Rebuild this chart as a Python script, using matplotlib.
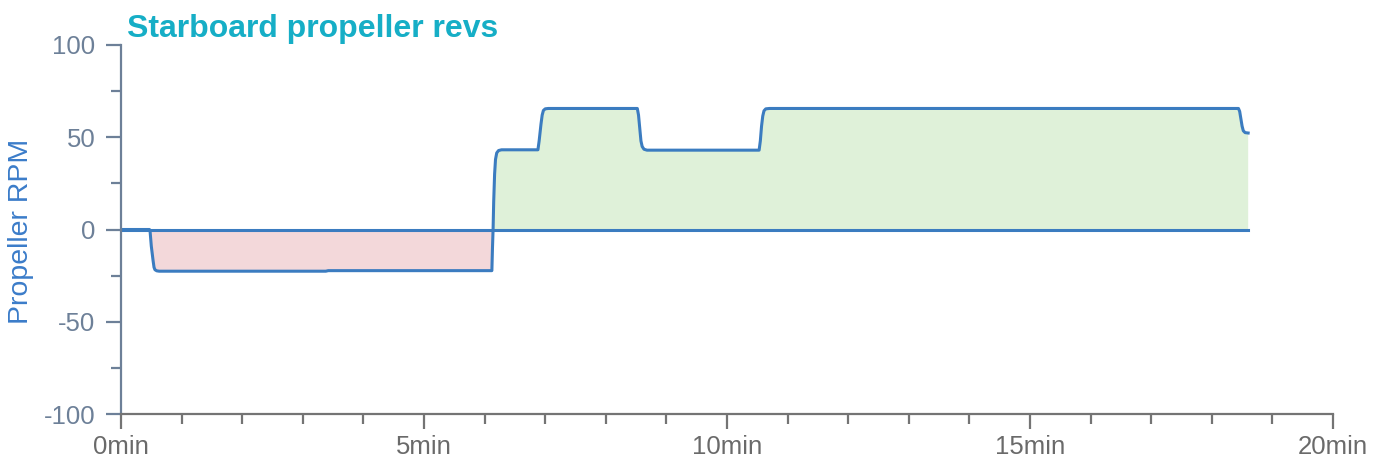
import matplotlib
matplotlib.use("Agg")
import matplotlib.pyplot as plt
from matplotlib.ticker import MultipleLocator, FuncFormatter
import numpy as np

plt.rcParams['font.family'] = ['Liberation Sans', 'DejaVu Sans']

# Data: time (minutes) and propeller RPM
time_min = [0, 0.47, 0.48, 0.50, 0.53, 0.545, 0.56, 0.59, 0.63,
            3.38, 3.42,
            6.12, 6.13, 6.14, 6.15, 6.165, 6.18, 6.20, 6.23, 6.28,
            6.88, 6.90, 6.93, 6.95, 6.97, 7.00, 7.05,
            8.52, 8.54, 8.56, 8.58, 8.60, 8.63, 8.68,
            10.53, 10.55, 10.57, 10.59, 10.61, 10.64, 10.70,
            18.44, 18.46, 18.48, 18.50, 18.52, 18.55, 18.60]
rpm = [0, 0, -1, -9, -17, -20.5, -21.8, -22.4, -22.6,
       -22.6, -22.3,
       -22.3, -10, 0, 15, 30, 38, 41.5, 42.8, 43.2,
       43.2, 48, 57, 62, 64.5, 65.4, 65.6,
       65.6, 62, 55, 48, 45, 43.5, 43,
       43, 48, 56, 61.5, 64.3, 65.4, 65.6,
       65.6, 64, 60, 56, 53.5, 52.5, 52.3]

title = "Starboard propeller revs"
ylabel = "Propeller RPM"

t = np.array(time_min)
r = np.array(rpm)

fig = plt.figure(figsize=(13.84, 4.62), dpi=100)
ax = fig.add_axes([121/1384, 1-414/462, (1333-121)/1384, (414-45)/462])

line_c = '#3b7cc0'
ax.fill_between(t, r, 0, where=r >= 0, interpolate=True, color='#dff1d9', lw=0)
ax.fill_between(t, r, 0, where=r <= 0, interpolate=True, color='#f3d8da', lw=0)
ax.plot([t[0], t[-1]], [0, 0], color=line_c, lw=2.2)
ax.plot(t, r, color=line_c, lw=2.2, solid_joinstyle='round')

ax.set_xlim(0, 20)
ax.set_ylim(-100, 100)
ax.xaxis.set_major_locator(MultipleLocator(5))
ax.xaxis.set_minor_locator(MultipleLocator(1))
ax.yaxis.set_major_locator(MultipleLocator(50))
ax.yaxis.set_minor_locator(MultipleLocator(25))
ax.xaxis.set_major_formatter(FuncFormatter(lambda v, p: f"{int(v)}min"))
ax.yaxis.set_major_formatter(FuncFormatter(lambda v, p: f"{int(v)}"))

for s in ['top', 'right']:
    ax.spines[s].set_visible(False)
ax.spines['left'].set_color('#6d8098')
ax.spines['left'].set_linewidth(1.6)
ax.spines['bottom'].set_color('#747474')
ax.spines['bottom'].set_linewidth(1.6)

ax.tick_params(axis='y', which='major', length=10.8, width=1.6, color='#6d8098',
               labelcolor='#6d8098', labelsize=18.5, pad=7.5)
ax.tick_params(axis='y', which='minor', length=7.2, width=1.6, color='#6d8098')
ax.tick_params(axis='x', which='major', length=10.8, width=1.6, color='#747474',
               labelcolor='#6a6a6a', labelsize=18.5, pad=4.5)
ax.tick_params(axis='x', which='minor', length=7.2, width=1.6, color='#747474')

fig.text(21/1384, 1-231/462, ylabel, color='#3b7cc9', fontsize=20.5,
         rotation=90, va='center', ha='center')
fig.text(127/1384, 1-29/462, title, color='#16aec6', fontsize=23, fontweight='bold',
         va='center', ha='left')

fig.savefig('out.png', dpi=100)
